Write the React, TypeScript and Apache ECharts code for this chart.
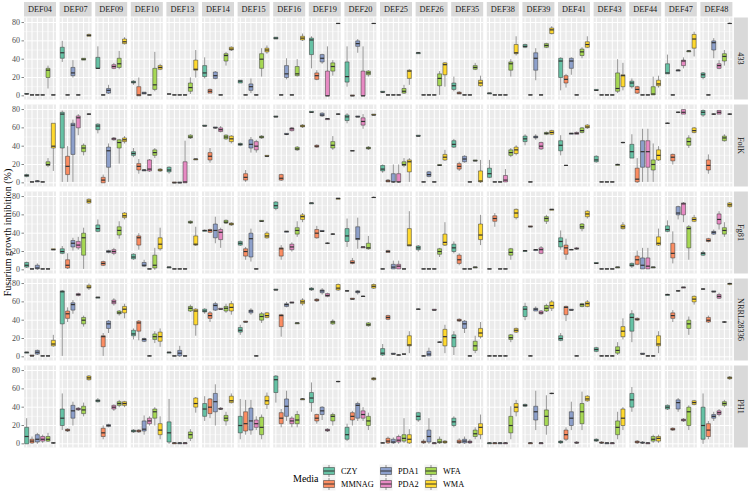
import React, { useEffect, useRef } from 'react';
import * as echarts from 'echarts';

const media = ['CZY', 'MMNAG', 'PDA1', 'PDA2', 'WFA', 'WMA'];
const mediaColors = ['#66C2A5', '#FC8D62', '#8DA0CB', '#E78AC3', '#A6D854', '#FFD92F'];
const strains = ['DEF04', 'DEF07', 'DEF09', 'DEF10', 'DEF13', 'DEF14', 'DEF15', 'DEF16', 'DEF19', 'DEF20',
  'DEF25', 'DEF26', 'DEF35', 'DEF38', 'DEF39', 'DEF41', 'DEF43', 'DEF44', 'DEF47', 'DEF48'];
const isolates = ['433', 'FolK', 'Fg81', 'NRRL28336', 'PH1'];
const yTicks = [0, 20, 40, 60, 80];
const yTitle = 'Fusarium growth inhibition (%)';
const legendTitle = 'Media';

// each box: [min, q1, median, q3, max]; per strain: 6 media in order CZY, MMNAG, PDA1, PDA2, WFA, WMA
const box433 = [
  [[1.5,2,2,2.5,3],[1,1,1,1,1],[1,1,1,1,1],[1,1,1,1,1],[8,20,28,30,33],[1,1,1,1,1]],
  [[37,41,47,53,60],[1,1,1,1,1],[20,22,25,31,39],[1,1,1,1,1],[39,39,40,41,41],[65,65,66,67,68]],
  [[30,30,30,42,54],[1,1,1,1,1],[2,3,6,8,12],[29,30,32,34,36],[29,31,35,41,49],[56,57,59,62,64]],
  [[12,14,15,16,17],[0,0,1,10,20],[2,2,3,4,4],[1,1,1,1,1],[5,7,12,30,48],[28,29,31,33,35]],
  [[2,2,2,2,2],[1,1,1,1,1],[1,1,1,1,1],[1,1,1,1,1],[2,5,9,14,20],[20,28,29,39,50]],
  [[19,21,25,33,42],[3,3,5,7,8],[18,19,22,26,27],[1,1,1,1,1],[33,38,44,46,48],[49,50,51,53,54]],
  [[14,14,16,17,17],[1,1,1,1,1],[3,6,10,13,19],[1,1,1,1,1],[21,30,40,46,52],[46,48,50,52,55]],
  [[62,62,63,64,64],[1,1,1,1,1],[18,20,24,33,41],[1,1,1,1,1],[21,22,24,32,40],[60,61,63,65,68]],
  [[30,45,61,63,65],[17,18,22,25,28],[35,37,41,45,46],[0,0,0,27,54],[22,27,32,36,39],[79,79,79,79,79]],
  [[10,15,21,37,54],[0,0,0,1,1],[47,54,57,60,62],[0,0,0,27,54],[21,23,25,27,28],[79,79,79,79,79]],
  [[3,4,4,5,5],[1,1,1,1,1],[1,1,1,1,1],[1,1,1,1,1],[2,3,5,8,12],[12,19,27,28,29]],
  [[46,46,47,47,48],[1,1,1,1,1],[1,1,1,1,1],[1,1,1,1,1],[1,11,19,24,27],[10,23,34,36,37]],
  [[5,7,11,14,21],[2,2,3,4,5],[1,1,1,1,1],[1,1,1,1,1],[28,29,31,33,36],[10,11,14,17,22]],
  [[2,2,3,3,3],[1,1,1,1,1],[1,1,1,1,1],[1,1,1,1,1],[21,28,35,37,40],[44,46,47,56,65]],
  [[52,53,54,56,57],[1,1,1,1,1],[17,28,41,47,52],[1,1,1,1,1],[52,53,55,57,58],[67,68,72,74,76]],
  [[6,20,38,41,42],[9,14,18,22,24],[23,30,38,41,42],[1,1,1,1,1],[41,44,48,51,53],[52,53,56,59,65]],
  [[6,6,6,7,7],[1,1,1,1,1],[1,1,1,1,1],[1,1,1,1,1],[3,5,8,25,40],[6,10,22,23,36]],
  [[8,10,14,16,19],[2,3,7,10,11],[1,1,1,1,1],[1,1,1,1,1],[1,1,2,10,21],[9,11,13,17,22]],
  [[24,24,25,35,45],[1,1,1,1,1],[27,27,28,28,29],[30,33,38,39,42],[48,48,49,49,50],[43,52,62,67,70]],
  [[18,20,23,25,26],[1,1,1,1,1],[41,50,58,60,63],[29,30,33,35,39],[33,38,43,46,50],[79,79,79,79,80]],
];

const boxFolK = [
  [[6,7,8,9,10],[1,1,1,1,1],[1,1,2,2,3],[1,1,1,1,1],[17,19,20,23,27],[13,38,40,65,65]],
  [[1,38,75,77,79],[1,9,18,29,40],[1,31,63,65,69],[52,60,71,73,75],[30,34,38,41,43],[74,75,75,75,76]],
  [[54,58,62,64,65],[0,0,3,6,9],[1,17,35,39,43],[46,47,48,49,50],[21,38,44,47,48],[43,45,47,49,51]],
  [[28,30,32,34,38],[10,14,18,21,26],[13,13,14,14,15],[12,13,15,25,26],[27,30,33,36,38],[12,13,14,15,16]],
  [[10,12,14,17,18],[0,0,0,1,1],[0,0,0,1,1],[0,0,1,23,46],[48,49,50,52,53],[25,25,26,26,26]],
  [[62,62,62,63,63],[22,25,29,33,38],[59,60,60,61,61],[55,56,58,60,62],[47,48,50,52,53],[43,45,48,51,52]],
  [[40,41,42,43,44],[1,3,6,10,14],[33,38,42,47,50],[33,36,40,45,47],[48,49,50,51,52],[28,29,29,30,30]],
  [[72,72,72,73,73],[2,3,5,9,10],[52,53,53,54,54],[56,57,59,60,61],[35,36,37,39,40],[60,61,62,63,64]],
  [[77,77,77,78,78],[38,39,40,41,42],[72,73,74,76,77],[69,69,70,70,70],[36,38,41,45,51],[74,75,75,75,76]],
  [[65,68,72,74,76],[35,35,35,35,35],[72,72,72,73,73],[59,63,67,71,75],[36,37,38,39,40],[74,74,74,75,75]],
  [[11,13,15,19,20],[1,1,2,3,4],[0,1,1,10,20],[0,1,1,10,20],[17,19,20,23,27],[1,12,23,25,27]],
  [[51,51,51,52,52],[1,1,1,1,1],[6,7,9,12,13],[1,1,1,1,1],[19,19,19,20,20],[24,25,28,31,36]],
  [[38,39,42,46,48],[13,15,18,21,23],[22,23,26,29,30],[1,1,1,1,1],[24,24,24,25,25],[0,1,2,13,25]],
  [[5,6,10,16,25],[1,1,1,1,1],[1,1,1,1,1],[1,1,3,8,15],[28,30,33,36,38],[30,32,36,39,41]],
  [[41,45,48,51,53],[1,1,1,1,1],[47,49,50,51,53],[36,37,40,44,45],[52,53,54,55,56],[52,53,55,57,58]],
  [[30,35,41,46,52],[19,19,19,19,19],[53,53,54,54,54],[53,53,54,55,56],[54,55,57,60,61],[59,60,61,63,64]],
  [[22,23,25,29,30],[1,1,1,1,1],[1,1,1,1,1],[1,1,1,1,1],[19,19,20,20,21],[43,44,44,44,45]],
  [[27,27,34,42,53],[0,1,4,16,27],[1,17,34,46,59],[1,17,34,46,59],[1,14,20,25,43],[24,25,30,36,40]],
  [[65,65,65,65,66],[20,24,28,31,32],[76,77,77,77,78],[75,75,77,80,80],[38,41,45,49,52],[54,55,57,60,61]],
  [[72,74,77,79,80],[10,14,19,25,31],[74,75,75,75,76],[75,75,77,79,79],[45,46,49,51,53],[74,75,75,75,76]],
];

const boxFg81 = [
  [[2,3,5,8,9],[1,1,1,1,1],[0,1,2,5,7],[1,1,1,1,1],[1,1,1,1,1],[22,22,22,23,23]],
  [[17,18,20,23,26],[1,2,5,11,18],[21,25,29,32,35],[22,24,27,31,36],[1,16,35,40,46],[72,73,75,77,78]],
  [[41,42,45,49,55],[4,5,7,9,10],[18,19,20,21,22],[16,18,20,22,24],[34,38,43,47,53],[55,57,59,62,63]],
  [[11,12,14,17,18],[22,27,35,37,40],[3,4,5,8,11],[1,1,1,1,1],[0,2,5,16,24],[21,23,28,35,46]],
  [[2,2,3,3,3],[1,1,1,1,1],[1,1,1,1,1],[1,1,1,1,1],[50,51,52,53,54],[26,27,28,37,47]],
  [[42,42,43,43,44],[40,41,43,44,45],[29,35,43,50,58],[24,33,41,44,46],[50,51,52,54,55],[48,49,50,51,52]],
  [[26,27,29,31,32],[11,15,20,23,25],[9,14,34,40,45],[1,1,1,1,1],[53,53,53,54,54],[34,35,37,40,42]],
  [[65,67,70,74,75],[11,15,23,24,27],[41,41,42,42,42],[20,22,25,28,30],[36,39,43,46,53],[52,55,58,60,62]],
  [[72,72,73,73,73],[34,35,40,44,48],[42,42,42,43,43],[28,29,29,29,30],[38,39,39,39,40],[77,77,78,78,78]],
  [[25,31,37,45,56],[6,7,8,10,13],[23,33,34,47,57],[24,24,25,25,25],[22,23,24,29,37],[79,79,79,79,80]],
  [[1,1,1,1,1],[19,19,20,21,22],[1,1,3,6,10],[1,1,4,6,10],[1,1,1,1,1],[26,26,27,45,64]],
  [[20,22,24,26,27],[1,1,1,1,1],[1,1,1,1,1],[1,1,1,1,1],[14,17,20,23,24],[26,27,30,39,52]],
  [[18,20,24,28,31],[5,7,11,16,18],[1,1,1,1,1],[1,1,1,1,1],[2,2,3,3,3],[27,33,38,50,60]],
  [[1,1,1,1,1],[47,53,56,59,62],[1,1,1,1,1],[1,1,1,1,1],[11,16,19,23,24],[55,57,62,66,67]],
  [[20,20,21,21,21],[47,47,47,48,48],[21,21,22,22,22],[17,18,22,24,26],[50,53,56,58,60],[65,65,66,66,66]],
  [[22,25,31,35,43],[11,17,24,27,34],[22,22,22,22,23],[22,23,23,24,25],[42,45,47,50,51],[56,58,61,64,65]],
  [[7,7,7,8,8],[1,1,1,1,1],[1,1,1,1,1],[1,1,1,1,1],[2,2,3,3,3],[44,45,47,49,52]],
  [[2,4,5,7,8],[5,6,11,15,21],[1,1,5,13,24],[1,1,4,13,24],[2,2,3,3,3],[26,27,29,36,45]],
  [[41,42,44,48,54],[7,13,18,29,42],[55,60,62,69,70],[52,60,72,73,74],[11,24,45,47,49],[52,53,55,57,60]],
  [[15,16,18,19,21],[30,31,32,34,35],[38,39,41,42,44],[44,50,55,61,64],[36,39,43,46,52],[68,69,71,73,74]],
];

const boxNRRL = [
  [[4,4,5,5,5],[1,1,1,2,2],[2,3,5,7,8],[1,1,1,1,1],[1,1,1,1,1],[11,12,14,18,24]],
  [[1,36,71,72,73],[38,42,47,50,54],[47,51,57,59,62],[66,67,68,69,70],[33,36,40,43,45],[73,75,76,78,80]],
  [[64,64,65,65,65],[1,11,22,23,26],[26,31,36,39,40],[56,58,60,62,64],[45,47,48,50,51],[42,48,52,55,58]],
  [[19,23,25,29,31],[18,28,37,39,40],[16,17,19,20,21],[1,1,1,1,2],[15,19,22,25,28],[11,17,22,27,31]],
  [[4,4,5,5,5],[1,1,1,1,1],[0,1,4,7,12],[1,1,1,1,1],[49,50,53,55,57],[23,35,50,52,53]],
  [[47,49,50,52,53],[38,42,45,48,50],[50,51,56,58,60],[52,52,52,53,53],[48,50,53,55,58],[46,50,54,58,61]],
  [[24,27,29,32,35],[38,38,38,39,39],[46,48,50,51,53],[1,1,1,1,2],[37,40,44,47,49],[42,43,45,48,49]],
  [[73,73,73,74,74],[22,33,45,46,47],[54,55,57,58,60],[59,59,59,60,60],[36,36,37,37,37],[56,58,60,62,64]],
  [[72,73,74,75,76],[60,61,62,63,64],[68,70,72,73,75],[65,66,67,69,70],[35,36,38,39,41],[72,73,75,79,80]],
  [[71,72,72,72,73],[63,63,63,64,64],[68,70,71,72,73],[66,66,66,66,67],[33,34,35,37,38],[74,75,77,79,80]],
  [[1,2,4,9,14],[40,41,43,45,46],[3,3,3,4,4],[2,2,2,2,3],[2,3,3,3,3],[4,12,13,23,28]],
  [[52,52,52,52,53],[1,1,1,1,2],[1,1,3,6,10],[51,51,51,52,52],[16,16,16,16,17],[4,12,22,30,35]],
  [[2,11,21,24,28],[38,39,40,41,42],[26,31,36,39,40],[1,1,1,1,2],[4,7,12,17,23],[20,22,26,31,38]],
  [[1,1,1,1,2],[1,1,1,1,2],[1,1,1,1,2],[1,1,1,1,2],[16,19,21,24,25],[26,27,29,31,32]],
  [[40,44,52,55,59],[1,1,1,1,2],[50,50,52,53,55],[46,47,48,50,51],[49,50,53,56,58],[50,53,56,60,62]],
  [[17,18,20,23,26],[39,46,54,55,56],[51,51,51,52,52],[1,1,1,1,2],[54,55,57,58,59],[54,55,58,60,62]],
  [[5,6,8,10,11],[1,1,1,1,2],[1,1,1,1,2],[1,1,1,1,2],[2,4,7,11,16],[19,22,28,33,42]],
  [[16,28,43,47,51],[39,40,41,42,43],[3,3,3,4,4],[1,1,1,1,2],[1,1,1,1,2],[4,12,14,23,28]],
  [[67,67,68,68,69],[38,42,45,48,51],[71,72,72,72,73],[75,75,76,76,76],[24,31,36,40,44],[57,60,63,66,67]],
  [[73,74,74,74,75],[37,38,40,43,45],[71,71,71,72,72],[63,64,66,68,70],[37,38,38,38,39],[78,79,80,80,81]],
];

const boxPH1 = [
  [[0,0,8,18,28],[0,1,3,5,8],[0,2,5,10,12],[1,3,5,8,10],[2,3,5,8,12],[0,1,1,1,2]],
  [[15,20,28,38,55],[13,14,15,16,17],[20,28,36,42,46],[36,37,38,39,40],[30,33,37,41,45],[69,70,72,74,75]],
  [[45,46,47,48,50],[5,8,12,17,20],[18,19,20,21,22],[36,38,40,42,43],[40,42,44,46,48],[40,42,44,46,47]],
  [[12,13,14,15,16],[12,13,14,15,16],[10,14,16,25,31],[20,22,25,28,30],[20,28,35,38,40],[5,10,15,22,30]],
  [[0,2,12,24,49],[0,0,1,1,2],[0,0,1,1,2],[0,0,1,1,2],[3,6,10,13,16],[34,40,44,50,51]],
  [[25,30,38,44,52],[28,33,40,49,50],[20,35,46,55,65],[37,38,38,39,40],[20,25,28,31,35],[44,45,47,52,55]],
  [[5,12,20,30,49],[10,14,22,35,48],[10,15,25,39,48],[15,18,22,26,30],[5,10,18,29,32],[38,43,47,52,56]],
  [[45,56,70,74,75],[18,22,28,34,38],[25,30,41,49,58],[18,22,25,28,30],[18,22,26,32,36],[48,48,49,49,50]],
  [[35,45,50,56,67],[22,25,28,32,33],[26,32,36,40,41],[13,14,15,16,17],[20,25,30,32,34],[67,68,68,68,69]],
  [[3,5,10,18,22],[20,26,30,34,36],[25,28,42,44,46],[25,28,32,36,40],[15,20,25,30,34],[69,70,71,72,73]],
  [[1,1,1,1,2],[0,1,3,6,8],[0,1,2,5,7],[0,2,4,8,10],[1,3,6,10,28],[0,1,5,10,16]],
  [[24,26,30,34,35],[0,1,2,3,5],[0,2,8,15,28],[0,0,1,1,2],[0,1,2,5,8],[0,1,2,3,4]],
  [[18,20,24,28,30],[0,1,2,4,6],[0,1,3,5,8],[0,1,2,3,5],[5,8,11,15,18],[5,10,18,22,32]],
  [[0,0,1,1,2],[0,0,1,1,2],[0,0,1,1,2],[0,0,1,1,2],[5,12,20,30,41],[30,35,40,44,48]],
  [[40,41,42,43,44],[0,0,1,1,2],[15,26,35,41,58],[0,0,1,1,2],[10,20,30,37,53],[54,55,55,55,56]],
  [[0,1,2,3,4],[3,5,10,15,18],[15,20,28,35,46],[0,1,1,2,3],[15,22,35,44,57],[46,47,49,52,53]],
  [[2,3,4,5,6],[0,1,1,2,3],[0,0,1,1,2],[0,0,1,1,2],[5,10,18,25,35],[15,20,28,38,40]],
  [[35,40,48,55,62],[0,1,2,3,4],[0,1,1,2,3],[0,0,1,1,2],[1,3,5,8,10],[1,3,6,8,10]],
  [[37,38,40,42,43],[14,15,16,17,18],[35,38,45,48,50],[24,25,26,27,28],[15,20,35,40,42],[42,43,45,47,48]],
  [[0,5,20,40,55],[5,8,15,22,25],[25,28,30,32,35],[30,32,34,36,38],[40,42,44,46,48],[70,71,72,73,74]],
];

const rowsData = [box433, boxFolK, boxFg81, boxNRRL, boxPH1];

const FONT = '"Liberation Serif", "DejaVu Serif", serif';
const PANEL_LEFT = 24;
const COL_STEP = 35.6;
const PANEL_W = 32;
const PANEL_TOP = 17.5;
const ROW_STEP = 87;
const PANEL_H = 82;
const Y_MIN = -4;
const Y_MAX = 85.5;
const OUTLINE = '#333333';

function renderItem(params: any, api: any) {
  const m = api.value(6);
  const cs = params.coordSys;
  const children: any[] = [];
  if (m < 0) {
    for (let v = 0; v <= 80; v += 10) {
      const y = api.coord([0, v])[1];
      children.push({
        type: 'line', silent: true,
        shape: { x1: cs.x, y1: y, x2: cs.x + cs.width, y2: y },
        style: { stroke: '#FFFFFF', lineWidth: v % 20 === 0 ? 1 : 0.5 },
      });
    }
    for (let k = 0; k < media.length; k++) {
      const x = api.coord([k, 0])[0];
      children.push({
        type: 'line', silent: true,
        shape: { x1: x, y1: cs.y, x2: x, y2: cs.y + cs.height },
        style: { stroke: '#FFFFFF', lineWidth: 1 },
      });
    }
    if (api.value(7) === 1) {
      for (const v of yTicks) {
        const y = api.coord([0, v])[1];
        children.push({
          type: 'line', silent: true,
          shape: { x1: cs.x - 2.5, y1: y, x2: cs.x, y2: y },
          style: { stroke: OUTLINE, lineWidth: 0.6 },
        });
      }
    }
    return { type: 'group', children };
  }
  const x = api.coord([api.value(0), 0])[0];
  const bw = api.size([1, 0])[0] * 0.75;
  const yMin = api.coord([0, api.value(1)])[1];
  const yQ1 = api.coord([0, api.value(2)])[1];
  const yMed = api.coord([0, api.value(3)])[1];
  const yQ3 = api.coord([0, api.value(4)])[1];
  const yMax = api.coord([0, api.value(5)])[1];
  const color = mediaColors[m];
  if (yMax < yQ3) {
    children.push({ type: 'line', shape: { x1: x, y1: yMax, x2: x, y2: yQ3 }, style: { stroke: OUTLINE, lineWidth: 0.5 } });
  }
  if (yMin > yQ1) {
    children.push({ type: 'line', shape: { x1: x, y1: yQ1, x2: x, y2: yMin }, style: { stroke: OUTLINE, lineWidth: 0.5 } });
  }
  children.push({
    type: 'rect',
    shape: { x: x - bw / 2, y: yQ3, width: bw, height: Math.max(0.01, yQ1 - yQ3) },
    style: { fill: color, stroke: OUTLINE, lineWidth: 0.5 },
  });
  children.push({
    type: 'line',
    shape: { x1: x - bw / 2, y1: yMed, x2: x + bw / 2, y2: yMed },
    style: { stroke: OUTLINE, lineWidth: 1.2 },
  });
  return { type: 'group', children };
}

export default function App() {
  const ref = useRef<HTMLDivElement>(null);
  useEffect(() => {
    if (!ref.current) return;
    const chart = echarts.init(ref.current, null, { renderer: 'svg' });
    const grids: any[] = [];
    const xAxes: any[] = [];
    const yAxes: any[] = [];
    const series: any[] = [];
    const graphics: any[] = [];
    let idx = 0;
    rowsData.forEach((rowData, r) => {
      rowData.forEach((panel, c) => {
        const left = PANEL_LEFT + c * COL_STEP;
        const top = PANEL_TOP + r * ROW_STEP;
        grids.push({
          left, top, width: PANEL_W, height: PANEL_H,
          show: true, backgroundColor: '#EBEBEB', borderWidth: 0, containLabel: false,
        });
        xAxes.push({
          gridIndex: idx, type: 'category', data: media,
          axisLine: { show: false }, axisTick: { show: false }, axisLabel: { show: false }, splitLine: { show: false },
        });
        yAxes.push({
          gridIndex: idx, type: 'value', min: Y_MIN, max: Y_MAX,
          axisLine: { show: false }, axisTick: { show: false }, splitLine: { show: false },
          axisLabel: {
            show: c === 0, showMinLabel: false, showMaxLabel: false, margin: 4,
            color: '#4D4D4D', fontSize: 8, fontFamily: FONT,
            formatter: (v: number) => (yTicks.indexOf(v) >= 0 ? String(v) : ''),
          },
        });
        const data: any[] = [[0, 0, 0, 0, 0, 0, -1, c === 0 ? 1 : 0]];
        panel.forEach((b, k) => data.push([k, b[0], b[1], b[2], b[3], b[4], k, 0]));
        series.push({
          type: 'custom', xAxisIndex: idx, yAxisIndex: idx, renderItem, data,
          encode: { x: 0, y: 1 }, clip: false, silent: true,
        });
        idx++;
      });
    });

    strains.forEach((s, c) => {
      const left = PANEL_LEFT + c * COL_STEP;
      graphics.push({ type: 'rect', shape: { x: left, y: 2, width: PANEL_W, height: 14.5 }, style: { fill: '#D9D9D9' }, silent: true });
      graphics.push({
        type: 'text', x: left + PANEL_W / 2, y: 9.5, silent: true,
        style: { text: s, textAlign: 'center', textVerticalAlign: 'middle', fill: '#1A1A1A', fontSize: 8.3, fontFamily: FONT },
      });
    });
    const stripX = PANEL_LEFT + 19 * COL_STEP + PANEL_W + 1.5;
    isolates.forEach((iso, r) => {
      const top = PANEL_TOP + r * ROW_STEP;
      graphics.push({ type: 'rect', shape: { x: stripX, y: top, width: 14, height: PANEL_H }, style: { fill: '#D9D9D9' }, silent: true });
      graphics.push({
        type: 'text', x: stripX + 7, y: top + PANEL_H / 2, rotation: -Math.PI / 2, silent: true,
        style: { text: iso, textAlign: 'center', textVerticalAlign: 'middle', fill: '#1A1A1A', fontSize: 8.3, fontFamily: FONT },
      });
    });
    graphics.push({
      type: 'text', x: 7, y: PANEL_TOP + (4 * ROW_STEP + PANEL_H) / 2, rotation: Math.PI / 2, silent: true,
      style: { text: yTitle, textAlign: 'center', textVerticalAlign: 'middle', fill: '#000000', fontSize: 10, fontFamily: FONT },
    });

    // legend
    graphics.push({
      type: 'text', x: 293, y: 478, silent: true,
      style: { text: legendTitle, textAlign: 'left', textVerticalAlign: 'middle', fill: '#000000', fontSize: 10, fontFamily: FONT },
    });
    const keyCols = [329, 386, 431];
    const keyRows = [471, 484];
    media.forEach((m, i) => {
      const cx = keyCols[Math.floor(i / 2)];
      const cy = keyRows[i % 2];
      graphics.push({ type: 'rect', shape: { x: cx - 6.5, y: cy - 6.5, width: 13, height: 13 }, style: { fill: '#F2F2F2' }, silent: true });
      graphics.push({ type: 'line', shape: { x1: cx, y1: cy - 6, x2: cx, y2: cy + 6 }, style: { stroke: OUTLINE, lineWidth: 0.5 }, silent: true });
      graphics.push({ type: 'rect', shape: { x: cx - 5.5, y: cy - 3.5, width: 11, height: 7 }, style: { fill: mediaColors[i], stroke: OUTLINE, lineWidth: 0.5 }, silent: true });
      graphics.push({ type: 'line', shape: { x1: cx - 5.5, y1: cy, x2: cx + 5.5, y2: cy }, style: { stroke: OUTLINE, lineWidth: 1 }, silent: true });
      graphics.push({
        type: 'text', x: cx + 12, y: cy, silent: true,
        style: { text: m, textAlign: 'left', textVerticalAlign: 'middle', fill: '#000000', fontSize: 8.3, fontFamily: FONT },
      });
    });

    chart.setOption({
      animation: false,
      backgroundColor: '#FFFFFF',
      grid: grids,
      xAxis: xAxes,
      yAxis: yAxes,
      series,
      graphic: graphics,
    });
    return () => chart.dispose();
  }, []);
  return <div ref={ref} style={{ position: 'fixed', left: 0, top: 0, width: 749, height: 493, background: '#fff' }} />;
}
